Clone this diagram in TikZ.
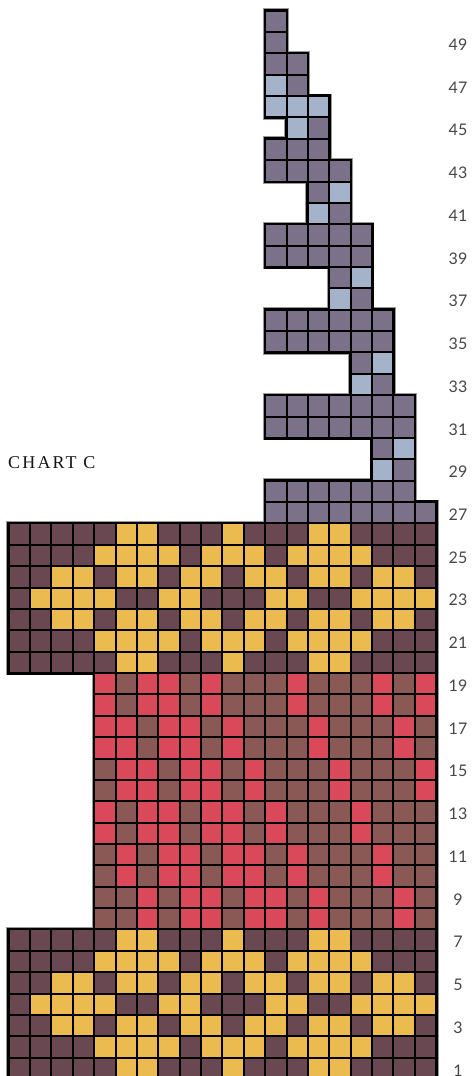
\documentclass[tikz,border=0pt]{standalone}
\usepackage{fontspec}
\setsansfont{Lato}
\newfontfamily\chartfont[LetterSpace=12]{Liberation Serif}
\definecolor{cD}{HTML}{6A4851}
\definecolor{cG}{HTML}{EBBB50}
\definecolor{cR}{HTML}{D9495A}
\definecolor{cB}{HTML}{8A5855}
\definecolor{cS}{HTML}{7B7189}
\definecolor{cL}{HTML}{A4B3CA}
\newcount\cellpass
\def\cs{21.37}
\def\xo{8.7}
\def\yo{-3.07}
\tikzset{
  halo/.style={fill=black!40},
  edgefill/.style={fill=black},
  numlabel/.style={font=\sffamily\fontsize{16}{16}\selectfont, text=black!72, inner sep=0pt, anchor=center},
  titlelabel/.style={font=\chartfont\fontsize{18}{18}\selectfont, text=black!92, inner sep=0pt, anchor=base west}
}
\newcommand\cellrow[3]{%
  \foreach \cc [count=\i from 0] in #3 {%
    \pgfmathsetmacro\xx{\xo+(#2-1+\i)*\cs}%
    \pgfmathsetmacro\yy{\yo+(#1-1)*\cs}%
    \ifcase\cellpass
      \fill[halo] (\xx-2.4,\yy-2.4) rectangle ++(\cs+4.8,\cs+4.8);
    \or
      \fill[edgefill] (\xx-1.6,\yy-1.6) rectangle ++(\cs+3.2,\cs+3.2);
    \or
      \fill[c\cc] (\xx+1,\yy+1) rectangle ++(\cs-2,\cs-2);
    \fi
  }}
\newcommand\fairA{D,D,D,D,D,G,G,D,D,D,G,D,D,D,G,G,D,D,D,D}
\newcommand\fairB{D,D,D,D,G,G,G,G,D,G,G,G,D,G,G,G,G,D,D,D}
\newcommand\fairC{D,D,G,G,D,G,G,D,G,G,D,G,G,D,G,G,D,G,G,D}
\newcommand\fairD{D,G,G,G,G,D,D,G,G,D,D,D,G,G,D,D,G,G,G,G}
\newcommand\redA{B,B,R,B,R,R,B,R,R,B,R,B,B,B,R,B}
\newcommand\redB{B,R,B,R,R,B,R,R,B,R,B,B,B,R,B,B}
\newcommand\redC{R,B,R,R,B,R,R,B,R,B,B,B,R,B,B,B}
\newcommand\redD{B,R,R,B,R,R,B,R,B,B,B,R,B,B,B,R}
\newcommand\redE{R,R,B,R,R,B,R,B,B,B,R,B,B,B,R,B}
\newcommand\redF{R,B,R,R,B,R,B,B,B,R,B,B,B,R,B,R}
\newcommand\chartdata{%
  \cellrow{1}{1}{\fairA}\cellrow{2}{1}{\fairB}\cellrow{3}{1}{\fairC}\cellrow{4}{1}{\fairD}%
  \cellrow{5}{1}{\fairC}\cellrow{6}{1}{\fairB}\cellrow{7}{1}{\fairA}%
  \cellrow{8}{5}{\redA}\cellrow{9}{5}{\redA}\cellrow{10}{5}{\redB}\cellrow{11}{5}{\redB}%
  \cellrow{12}{5}{\redC}\cellrow{13}{5}{\redC}\cellrow{14}{5}{\redD}\cellrow{15}{5}{\redD}%
  \cellrow{16}{5}{\redE}\cellrow{17}{5}{\redE}\cellrow{18}{5}{\redF}\cellrow{19}{5}{\redF}%
  \cellrow{20}{1}{\fairA}\cellrow{21}{1}{\fairB}\cellrow{22}{1}{\fairC}\cellrow{23}{1}{\fairD}%
  \cellrow{24}{1}{\fairC}\cellrow{25}{1}{\fairB}\cellrow{26}{1}{\fairA}%
  \cellrow{27}{13}{{S,S,S,S,S,S,S,S}}\cellrow{28}{13}{{S,S,S,S,S,S,S}}%
  \cellrow{29}{18}{{L,S}}\cellrow{30}{18}{{S,L}}%
  \cellrow{31}{13}{{S,S,S,S,S,S,S}}\cellrow{32}{13}{{S,S,S,S,S,S,S}}%
  \cellrow{33}{17}{{L,S}}\cellrow{34}{17}{{S,L}}%
  \cellrow{35}{13}{{S,S,S,S,S,S}}\cellrow{36}{13}{{S,S,S,S,S,S}}%
  \cellrow{37}{16}{{L,S}}\cellrow{38}{16}{{S,L}}%
  \cellrow{39}{13}{{S,S,S,S,S}}\cellrow{40}{13}{{S,S,S,S,S}}%
  \cellrow{41}{15}{{L,S}}\cellrow{42}{15}{{S,L}}%
  \cellrow{43}{13}{{S,S,S,S}}\cellrow{44}{13}{{S,S,S}}%
  \cellrow{45}{14}{{L,S}}\cellrow{46}{13}{{L,L,L}}%
  \cellrow{47}{13}{{L,S}}\cellrow{48}{13}{{S,S}}%
  \cellrow{49}{13}{{S}}\cellrow{50}{13}{{S}}%
}
\begin{document}
\begin{tikzpicture}[x=1pt,y=1pt]
\useasboundingbox (0,0) rectangle (473,1076);
\clip (0,0) rectangle (473,1076);
\fill[white] (0,0) rectangle (473,1076);
\cellpass=0 \chartdata
\cellpass=1 \chartdata
\cellpass=2 \chartdata
\foreach \n in {1,3,...,49} {
  \node[numlabel] (n\n) at (458,{\yo+(\n-0.5)*\cs-2}) {\n};
}
\node[titlelabel] (title) at (8,607.5) {CHART C};
\end{tikzpicture}
\end{document}
